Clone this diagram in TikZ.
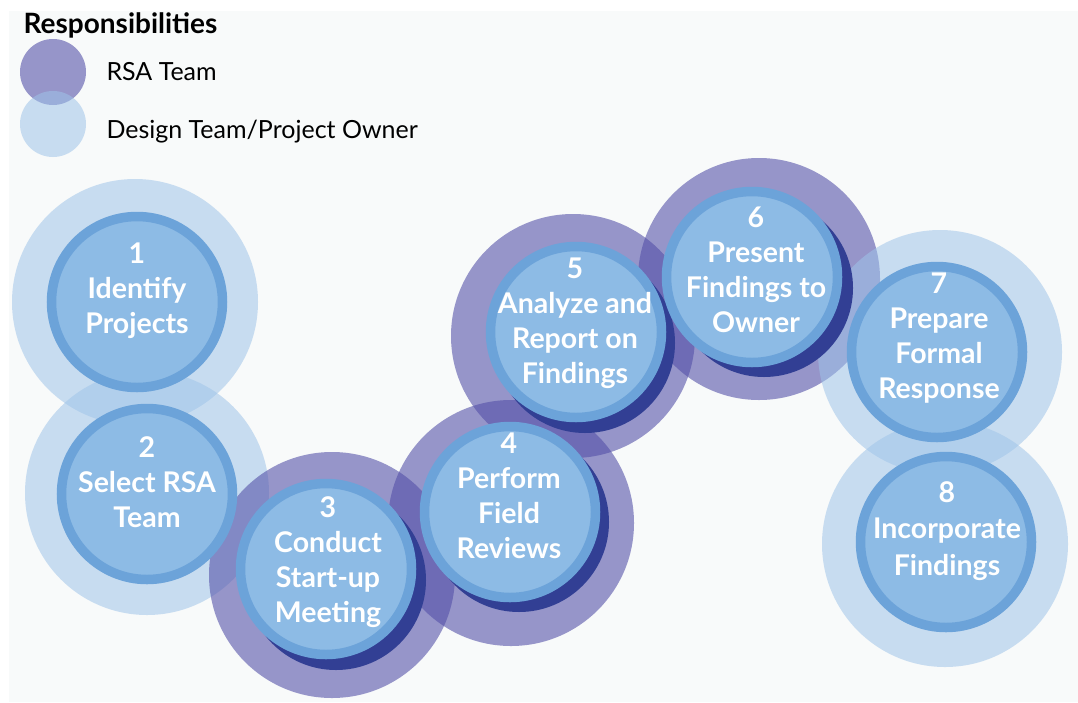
\documentclass[tikz,border=0pt]{standalone}
\usepackage{fontspec}
\setmainfont{Lato}
\begin{document}
\begin{tikzpicture}[x=1pt,y=-1pt,
  panel/.style={fill=panelbg},
  rsahalo/.style={fill=rsapurple,fill opacity=0.59},
  dthalo/.style={fill=dtblue,fill opacity=0.54},
  shadowdisk/.style={fill=navyshadow},
  stepdisk/.style={circle,fill=diskfill,draw=diskring,line width=9.5pt,minimum size=171pt,inner sep=0pt,outer sep=0pt},
  steptext/.style={text=white,align=center,anchor=base,font=\fontsize{28.5}{35}\selectfont\bfseries},
  legtext/.style={anchor=base west,font=\fontsize{25}{28}\selectfont},
]
\definecolor{panelbg}{RGB}{248,250,250}
\definecolor{rsapurple}{RGB}{82,79,167}
\definecolor{dtblue}{RGB}{159,196,233}
\definecolor{navyshadow}{RGB}{50,63,148}
\definecolor{diskfill}{RGB}{141,187,229}
\definecolor{diskring}{RGB}{108,163,217}
\useasboundingbox (0,0) rectangle (1078,702);
\fill[white] (0,0) rectangle (1078,702);
\fill[panel] (9,11) rectangle (1078,702);
% legend
\node[anchor=base west,font=\fontsize{28}{30}\selectfont\bfseries] (legtitle) at (20,33) {Responsibilities};
\fill[rsahalo] (53,72) circle (33pt);
\fill[dthalo] (53,124) circle (33pt);
\node[legtext] (legrsa) at (103,80) {RSA Team};
\node[legtext] (legdt) at (103,138) {Design Team/Project Owner};
% halos
\fill[dthalo] (135,302) circle (123pt);
\fill[dthalo] (147,493) circle (122pt);
\fill[rsahalo] (332,575) circle (123pt);
\fill[rsahalo] (511,523) circle (123pt);
\fill[rsahalo] (573,336) circle (122pt);
\fill[rsahalo] (759,279) circle (121pt);
\fill[dthalo] (940,352) circle (122pt);
\fill[dthalo] (945,544) circle (123pt);
% step disks
\node[stepdisk] (s1) at (137,302) {};
\node[stepdisk] (s2) at (147,494) {};
\fill[shadowdisk] (336,580) circle (90pt);
\node[stepdisk] (s3) at (326,569) {};
\fill[shadowdisk] (519,522) circle (90pt);
\node[stepdisk] (s4) at (510,512) {};
\fill[shadowdisk] (585,343) circle (90pt);
\node[stepdisk] (s5) at (576,332) {};
\fill[shadowdisk] (764,288) circle (89pt);
\node[stepdisk] (s6) at (752,277) {};
\node[stepdisk] (s7) at (937,352) {};
\node[stepdisk] (s8) at (946,542) {};
% texts (anchor base = baseline of the last line)
\node[steptext] (t1) at (137,333) {1\\Identify\\Projects};
\node[steptext] (t2) at (147,527) {2\\Select RSA\\Team};
\node[steptext] (t3) at (328,622) {3\\Conduct\\Start-up\\Meeting};
\node[steptext] (t4) at (509,558) {4\\Perform\\Field\\Reviews};
\node[steptext] (t5) at (575,383) {5\\Analyze and\\Report on\\Findings};
\node[steptext] (t6) at (756,332) {6\\Present\\Findings to\\Owner};
\node[steptext] (t7) at (939,398) {7\\Prepare\\Formal\\Response};
\node[steptext,font=\fontsize{28.5}{36.5}\selectfont\bfseries] (t8) at (947,575) {8\\Incorporate\\Findings};
\end{tikzpicture}
\end{document}
